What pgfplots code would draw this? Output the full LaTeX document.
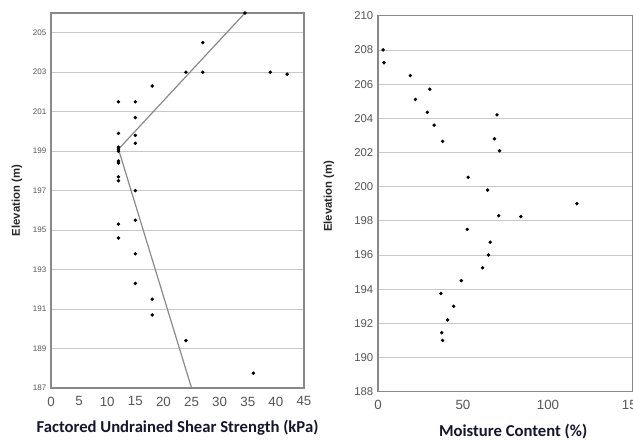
\documentclass[border=0pt]{standalone}
\usepackage{fontspec}
\setmainfont{Liberation Sans}
\newfontfamily\calib{Carlito}
\usepackage{pgfplots}
\pgfplotsset{compat=1.18}

\definecolor{tickgray}{HTML}{555555}
\definecolor{gridgray}{HTML}{C8C8C8}
\definecolor{framegray}{HTML}{888888}
\definecolor{fitline}{HTML}{8A8A8A}
\definecolor{labelink}{HTML}{15152E}

\pgfplotsset{
  soil/.style={
    scale only axis,
    axis line style={framegray, line width=0.8pt},
    major tick length=0pt,
    ymajorgrids,
    grid style={gridgray, line width=0.6pt},
    tick label style={tickgray},
    /pgf/number format/assume math mode=true,
    clip=false,
    xlabel style={font=\calib\bfseries\fontsize{12.5}{14}\selectfont, labelink, anchor=center},
    ylabel style={font=\bfseries\fontsize{8.5}{9}\selectfont, black!85, anchor=center},
  },
}

\begin{document}
\begin{tikzpicture}
\path[use as bounding box] (0,0) rectangle (474.75pt,330pt);

% left: shear strength against elevation
\begin{axis}[soil,
    at={(38.25pt,39pt)}, anchor=south west,
    width=189.75pt, height=281.25pt,
    xmin=0, xmax=45, ymin=187, ymax=206,
    xtick={0,5,...,45},
    ytick={187,189,...,205},
    yticklabel style={font=\fontsize{6}{7}\selectfont},
    xticklabel style={font=\fontsize{10}{11}\selectfont, yshift=-3pt},
    xlabel={Factored Undrained Shear Strength (kPa)},
    xlabel style={at={(axis description cs:0.5,0)}, yshift=-30pt},
    ylabel={Elevation (m)},
    ylabel style={at={(axis description cs:0,0.5)}, yshift=25.5pt},
  ]
  \addplot[fitline, line width=0.9pt, no marks] coordinates {
    (34.5,206) (12,199.1) (25,187)
  };
  \addplot[only marks, mark=*, mark size=1.1pt, black] coordinates {
    (34.5,206) (27,204.5) (24,203) (27,203) (39,203) (42,202.9)
    (18,202.3) (12,201.5) (15,201.5) (15,200.7) (12,199.9) (15,199.8)
    (15,199.4) (12,199.2) (12,199.1) (12,199.0) (12,198.5) (12,198.4)
    (12,197.7) (12,197.5) (15,197.0) (15,195.5) (12,195.3) (12,194.6)
    (15,193.8) (15,192.3) (18,191.5) (18,190.7) (24,189.4) (36,187.75)
  };
\end{axis}

% right: moisture content against elevation
\begin{axis}[soil,
    at={(283.5pt,36.2pt)}, anchor=south west,
    width=191.25pt, height=282pt,
    xmin=0, xmax=150, ymin=188, ymax=210,
    xtick={0,50,100,150},
    ytick={188,190,...,210},
    yticklabel style={font=\fontsize{8.5}{9}\selectfont},
    xticklabel style={font=\fontsize{10}{11}\selectfont, yshift=-3pt},
    xlabel={Moisture Content (\%)},
    xlabel style={at={(axis description cs:0.53,0)}, yshift=-30pt},
    ylabel={Elevation (m)},
    ylabel style={at={(axis description cs:0,0.52)}, yshift=36.75pt},
  ]
  \addplot[only marks, mark=*, mark size=1.1pt, black] coordinates {
    (3,208) (3.5,207.25) (19,206.5) (30.5,205.7) (22,205.1) (29,204.35)
    (33,203.6) (38,202.65) (70,204.2) (68.5,202.8) (71.5,202.1)
    (53,200.55) (64.5,199.8) (117,199) (71,198.3) (84,198.25)
    (52.5,197.5) (66,196.75) (65,196) (61.5,195.25) (49,194.5)
    (37,193.75) (44.5,193) (41,192.2) (37.5,191.45) (38,191)
  };
\end{axis}
\end{tikzpicture}
\end{document}
